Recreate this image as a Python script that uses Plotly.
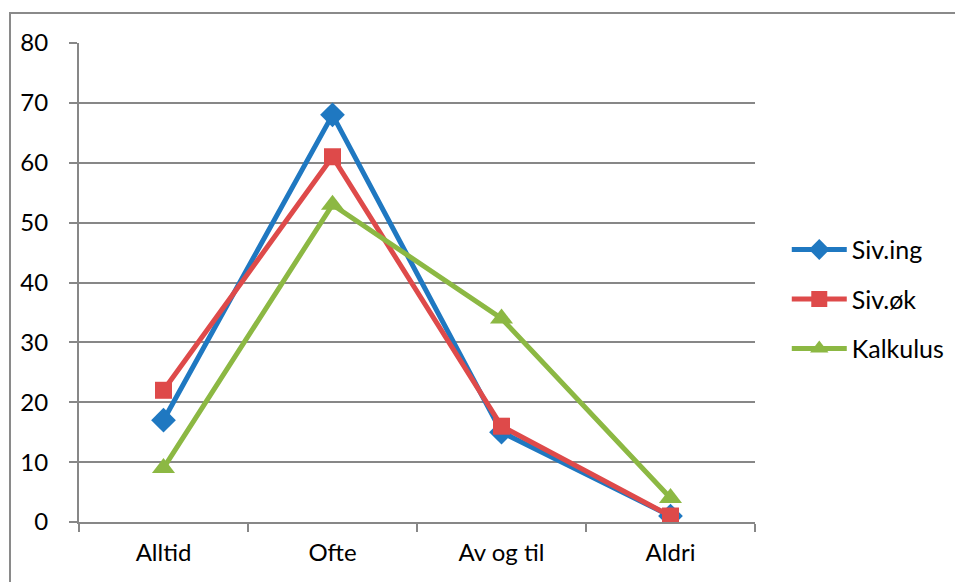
import plotly.graph_objects as go

categories = ["Alltid", "Ofte", "Av og til", "Aldri"]
siv_ing = [17, 68, 15, 1]
siv_ok = [22, 61, 16, 1]
kalkulus = [9, 53, 34, 4]
y_ticks = [0, 10, 20, 30, 40, 50, 60, 70, 80]

FONT = "Lato"
GRID = "#878787"

fig = go.Figure()
fig.add_trace(go.Scatter(x=categories, y=siv_ing, name="Siv.ing", mode="lines+markers",
                         legendgroup="a",
                         line=dict(color="#1F78C1", width=5),
                         marker=dict(symbol="diamond", size=19, color="#1F78C1")))
fig.add_trace(go.Scatter(x=categories, y=siv_ok, name="Siv.øk", mode="lines+markers",
                         legendgroup="b",
                         line=dict(color="#DE4A4A", width=5),
                         marker=dict(symbol="square", size=17, color="#DE4A4A")))
fig.add_trace(go.Scatter(x=categories, y=kalkulus, name="Kalkulus", mode="lines+markers",
                         legendgroup="c",
                         line=dict(color="#8CB843", width=5),
                         marker=dict(symbol="triangle-up", size=20, color="#8CB843")))

# page has an 8px body margin, so the figure is offset by (8, 8)
fig.update_layout(
    width=955, height=574,
    margin=dict(l=71, r=208, t=35, b=60),
    paper_bgcolor="white", plot_bgcolor="white",
    font=dict(family=FONT, size=24, color="#000000"),
    showlegend=True,
    legend=dict(x=1.047, y=0.465, xanchor="left", yanchor="middle",
                font=dict(family=FONT, size=25), tracegroupgap=14,
                itemwidth=55, bgcolor="rgba(0,0,0,0)"),
    xaxis=dict(type="category", tickson="boundaries", ticks="outside", ticklen=8,
               tickcolor=GRID, tickwidth=2, showline=True, linecolor=GRID, linewidth=2,
               showgrid=False, range=[-0.5, 3.5], ticklabelstandoff=8),
    yaxis=dict(range=[0, 80], tickvals=y_ticks, ticks="outside", ticklen=8,
               tickcolor=GRID, tickwidth=2, showline=True, linecolor=GRID, linewidth=2,
               showgrid=True, gridcolor=GRID, gridwidth=1.5, zeroline=False,
               ticklabelstandoff=16),
    shapes=[dict(type="rect", xref="paper", yref="paper",
                 x0=(10 - 79) / 676, x1=(962 - 79) / 676,
                 y0=-0.3, y1=1 + (43 - 13) / 479,
                 line=dict(color="#8a8a8a", width=2), layer="below")],
)

fig.write_html("out.html")
